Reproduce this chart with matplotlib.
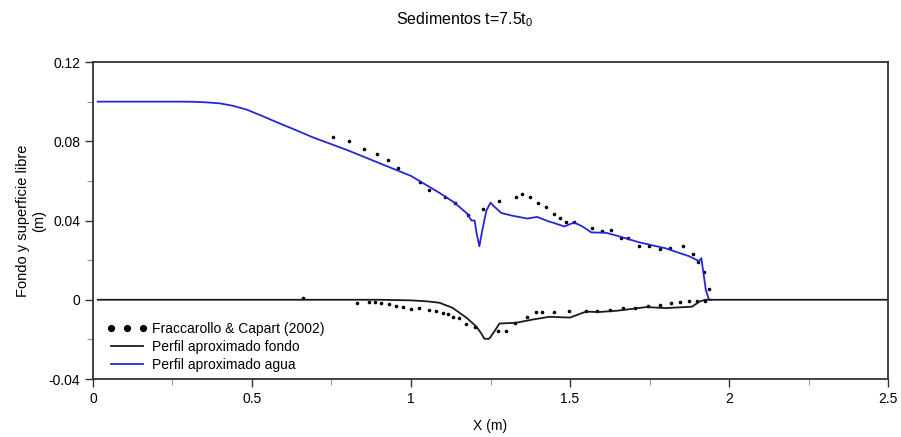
import matplotlib
matplotlib.use("Agg")
import matplotlib.pyplot as plt
from matplotlib.ticker import MultipleLocator

plt.rcParams['font.family'] = ['Liberation Sans', 'DejaVu Sans']
plt.rcParams['mathtext.fontset'] = 'custom'
plt.rcParams['mathtext.rm'] = 'Liberation Sans'
plt.rcParams['mathtext.it'] = 'Liberation Sans'

# Perfil aproximado agua (superficie libre)
agua_x = [0.015, 0.1, 0.2, 0.273, 0.32, 0.36, 0.40, 0.44, 0.483, 0.53, 0.587, 0.64,
          0.691, 0.797, 0.90, 1.0, 1.089, 1.137, 1.177, 1.19, 1.20, 1.206, 1.215, 1.224,
          1.237, 1.25, 1.262, 1.284, 1.319, 1.366, 1.397, 1.435, 1.445, 1.482, 1.513,
          1.539, 1.567, 1.613, 1.655, 1.717, 1.80, 1.874, 1.906, 1.913, 1.927, 1.937,
          1.945]
agua_y = [0.1, 0.1, 0.1, 0.1, 0.0999, 0.0996, 0.0991, 0.0979, 0.096, 0.0929, 0.089,
          0.0855, 0.082, 0.0757, 0.069, 0.0625, 0.054, 0.049, 0.0434, 0.040, 0.040,
          0.0338, 0.027, 0.035, 0.045, 0.049, 0.047, 0.0438, 0.0424, 0.041, 0.0418,
          0.0394, 0.039, 0.037, 0.039, 0.037, 0.034, 0.0338, 0.032, 0.029, 0.026, 0.022,
          0.0195, 0.021, 0.005, 0.0, 0.0]

# Perfil aproximado fondo
fondo_x = [0.015, 0.9, 1.0, 1.05, 1.089, 1.13, 1.174, 1.206, 1.221, 1.231, 1.246, 1.262,
           1.278, 1.331, 1.382, 1.435, 1.50, 1.55, 1.59, 1.65, 1.74, 1.80, 1.884, 1.906,
           1.925, 1.94, 2.51]
fondo_y = [0, 0, -0.0003, -0.0008, -0.0015, -0.004, -0.009, -0.0136, -0.017, -0.0197,
           -0.0197, -0.016, -0.012, -0.0116, -0.010, -0.0086, -0.009, -0.006, -0.0062,
           -0.0055, -0.0037, -0.0042, -0.0035, -0.001, 0.0, 0.0, 0.0]

# Fraccarollo & Capart (2002) - superficie
exp_agua_x = [0.755, 0.805, 0.851, 0.893, 0.927, 0.958, 1.027, 1.058, 1.108, 1.137, 1.18,
              1.225, 1.278, 1.33, 1.35, 1.375, 1.40, 1.425, 1.45, 1.469, 1.488, 1.513,
              1.57, 1.60, 1.63, 1.66, 1.683, 1.717, 1.749, 1.783, 1.815, 1.856, 1.887,
              1.903, 1.921, 1.937]
exp_agua_y = [0.0823, 0.080, 0.076, 0.0737, 0.0707, 0.0666, 0.0596, 0.0555, 0.052, 0.049,
              0.043, 0.046, 0.050, 0.052, 0.0533, 0.052, 0.049, 0.047, 0.0434, 0.0414,
              0.039, 0.039, 0.0363, 0.0348, 0.035, 0.031, 0.031, 0.027, 0.027, 0.0257,
              0.026, 0.027, 0.023, 0.019, 0.014, 0.0055]

# Fraccarollo & Capart (2002) - fondo
exp_fondo_x = [0.66, 0.829, 0.867, 0.888, 0.907, 0.93, 0.954, 0.976, 1.00, 1.024, 1.058,
               1.08, 1.10, 1.115, 1.133, 1.152, 1.174, 1.2, 1.272, 1.30, 1.328, 1.366,
               1.394, 1.413, 1.45, 1.498, 1.55, 1.585, 1.626, 1.667, 1.705, 1.746, 1.783,
               1.818, 1.846, 1.874, 1.90, 1.925]
exp_fondo_y = [0.001, -0.0015, -0.001, -0.001, -0.0015, -0.002, -0.003, -0.0035, -0.0045,
               -0.004, -0.005, -0.0055, -0.0066, -0.007, -0.0085, -0.009, -0.012, -0.014,
               -0.016, -0.016, -0.0116, -0.0085, -0.006, -0.006, -0.006, -0.0055, -0.0055,
               -0.0055, -0.005, -0.004, -0.004, -0.003, -0.0025, -0.0015, -0.001, -0.0005,
               -0.0005, -0.0005]

fig = plt.figure(figsize=(9.01, 4.37), dpi=100)
ax = fig.add_axes([0.1032, 0.1327, 0.8824, 0.7254])

ax.plot(exp_agua_x, exp_agua_y, 'o', color='black', markersize=2.6, markeredgewidth=0,
        label='Fraccarollo & Capart (2002)')
ax.plot(exp_fondo_x, exp_fondo_y, 'o', color='black', markersize=2.6, markeredgewidth=0)
ax.plot(agua_x, agua_y, color='#2626d8', linewidth=1.3, label='Perfil aproximado agua')
ax.plot(fondo_x, fondo_y, color='#1a1a1a', linewidth=1.3, label='Perfil aproximado fondo')

ax.set_xlim(0, 2.5)
ax.set_ylim(-0.04, 0.12)
ax.xaxis.set_minor_locator(MultipleLocator(0.25))
ax.yaxis.set_minor_locator(MultipleLocator(0.02))
ax.set_xticks([0, 0.5, 1, 1.5, 2, 2.5])
ax.set_xticklabels(['0', '0.5', '1', '1.5', '2', '2.5'])
ax.set_yticks([-0.04, 0, 0.04, 0.08, 0.12])
ax.set_yticklabels(['-0.04', '0', '0.04', '0.08', '0.12'])
ax.tick_params(which='major', direction='out', length=6, width=1, color='#333333',
               labelsize=10, pad=3)
ax.tick_params(which='minor', direction='out', length=4, width=0.8, color='#999999')
for s in ax.spines.values():
    s.set_color('#333333')
    s.set_linewidth(1.3)

ax.set_xlabel('X (m)', fontsize=10, labelpad=10)
ax.set_ylabel('Fondo y superficie libre\n(m)', fontsize=10.5, labelpad=2)

fig.text(0.516, 0.955, r'Sedimentos t=7.5t$_\mathregular{0}$', ha='center', va='center',
         fontsize=11.5)

h, l = ax.get_legend_handles_labels()
order = [0, 2, 1]
ax.legend([h[i] for i in order], [l[i] for i in order], loc='upper left',
          bbox_to_anchor=(107 / 901, 1 - 322 / 437), bbox_transform=fig.transFigure,
          frameon=False, fontsize=10, numpoints=3, markerscale=2.0, handlelength=2.9,
          handletextpad=0.35, labelspacing=0.3, borderpad=0, borderaxespad=0)

fig.savefig('out.png', dpi=100)
